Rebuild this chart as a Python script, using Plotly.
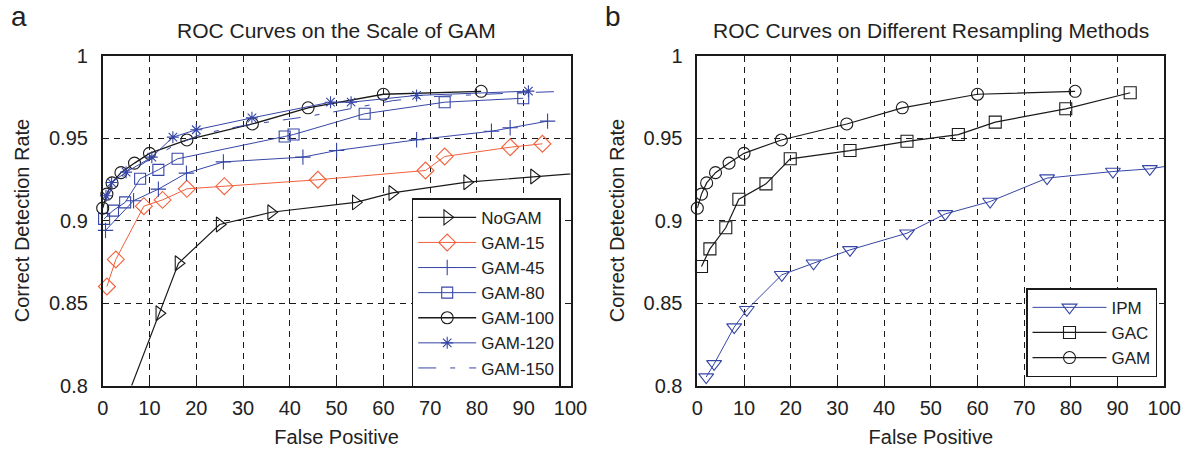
import plotly.graph_objects as go

# ---------------- data: panel a ----------------
nogam_x = [3.0, 12.1, 16.2, 25.0, 36.0, 54.1, 61.9, 77.9, 92.2, 104.0]
nogam_y = [0.7763, 0.8438, 0.8741, 0.8976, 0.9050, 0.9110, 0.9167, 0.9232, 0.9267, 0.9292]

gam15_x = [0.9, 2.8, 8.8, 12.8, 18.0, 26.0, 46.0, 69.0, 73.1, 87.1, 94.0]
gam15_y = [0.860, 0.8764, 0.9087, 0.9125, 0.9192, 0.9208, 0.9247, 0.9303, 0.9388, 0.9444, 0.9465]

gam45_x = [0.6, 6.6, 11.9, 17.9, 25.8, 42.8, 50.0, 67.1, 83.1, 87.1, 95.1]
gam45_y = [0.894, 0.912, 0.919, 0.9287, 0.9355, 0.9384, 0.9424, 0.9489, 0.9541, 0.9562, 0.9602]

gam80_x = [0.3, 2.2, 4.8, 8.0, 11.9, 16.0, 38.9, 40.8, 56.0, 73.1, 89.9]
gam80_y = [0.901, 0.906, 0.911, 0.9253, 0.9307, 0.9374, 0.9509, 0.9521, 0.9647, 0.9717, 0.9741]

gam100_x = [0.0, 0.9, 2.0, 3.9, 6.8, 10.0, 18.0, 32.0, 43.9, 60.0, 80.9]
gam100_y = [0.9075, 0.9160, 0.9228, 0.9290, 0.9348, 0.9407, 0.9488, 0.9585, 0.9683, 0.9765, 0.9783]

gam120_x = [0.7, 1.9, 5.0, 10.5, 15.0, 20.0, 31.9, 48.7, 53.1, 67.1, 91.0]
gam120_y = [0.915, 0.923, 0.9293, 0.9384, 0.9505, 0.955, 0.9622, 0.9717, 0.9717, 0.9758, 0.9784]

gam150_x = [0.5, 2.0, 5.0, 10.0, 15.0, 21.2, 30.0, 38.0, 43.7, 50.1, 61.9, 70.0, 77.9, 85.8, 97.6]
gam150_y = [0.911, 0.920, 0.928, 0.937, 0.945, 0.9525, 0.9575, 0.9606, 0.963, 0.9662, 0.9726, 0.975, 0.9762, 0.977, 0.9782]

# ---------------- data: panel b ----------------
ipm_x = [1.9, 3.6, 7.9, 10.6, 18.1, 24.9, 32.7, 44.9, 53.1, 62.7, 74.9, 89.0, 96.9, 104.0]
ipm_y = [0.8051, 0.8131, 0.8354, 0.8459, 0.8671, 0.8741, 0.8822, 0.8923, 0.9040, 0.9115, 0.9257, 0.9297, 0.9313, 0.9345]

gac_x = [0.9, 2.7, 6.1, 8.9, 14.7, 19.9, 32.7, 44.9, 55.9, 63.8, 78.9, 92.7]
gac_y = [0.8721, 0.8828, 0.8956, 0.9129, 0.9222, 0.9374, 0.9424, 0.9480, 0.9521, 0.9596, 0.9677, 0.9774]

gam_x = gam100_x
gam_y = gam100_y

x_ticks = [0, 10, 20, 30, 40, 50, 60, 70, 80, 90, 100]
y_ticks = [0.8, 0.85, 0.9, 0.95, 1.0]
y_tick_text = ["0.8", "0.85", "0.9", "0.95", "1"]

# ---------------- styling ----------------
BLACK = "#1a1a1a"
BLUE = "#3646a6"
ORANGE = "#f2603c"
FONT = "Liberation Sans, Arial, sans-serif"
W, H = 1187, 453

fig = go.Figure()

def add(x, y, name, color, symbol, size, xa, ya, legend, lw=1.0, clip=False, dash="solid", mode="lines+markers"):
    fig.add_trace(go.Scatter(
        x=x, y=y, name=name, mode=mode, xaxis=xa, yaxis=ya, legend=legend,
        line=dict(color=color, width=lw, dash=dash),
        marker=dict(symbol=symbol, size=size, color=color, line=dict(color=color, width=1.1)),
        cliponaxis=clip,
    ))

# panel a
add(nogam_x, nogam_y, "NoGAM", BLACK, "triangle-right-open", 13, "x", "y", "legend", lw=1.2, clip=True)
add(gam15_x, gam15_y, "GAM-15", ORANGE, "diamond-open", 13, "x", "y", "legend")
add(gam45_x, gam45_y, "GAM-45", BLUE, "cross-thin-open", 11, "x", "y", "legend")
add(gam80_x, gam80_y, "GAM-80", BLUE, "square-open", 11, "x", "y", "legend")
add(gam100_x, gam100_y, "GAM-100", BLACK, "circle-open", 12, "x", "y", "legend", lw=1.3)
add(gam120_x, gam120_y, "GAM-120", BLUE, "asterisk-open", 10, "x", "y", "legend")
add(gam150_x, gam150_y, "GAM-150", BLUE, "circle", 1, "x", "y", "legend", dash="18px,14px,5px,14px", mode="lines")

# panel b
add(ipm_x, ipm_y, "IPM", BLUE, "triangle-down-open", 13, "x2", "y2", "legend2", clip=True)
add(gac_x, gac_y, "GAC", BLACK, "square-open", 12, "x2", "y2", "legend2", lw=1.2)
add(gam_x, gam_y, "GAM", BLACK, "circle-open", 12, "x2", "y2", "legend2", lw=1.2)

ax_common = dict(
    showline=True, mirror="ticks", linecolor=BLACK, linewidth=1.6,
    ticks="inside", ticklen=5, tickwidth=1, tickcolor=BLACK,
    showgrid=True, gridcolor=BLACK, gridwidth=1, griddash="6px,5px",
    zeroline=False, automargin=False,
    tickfont=dict(size=20, color="#222", family=FONT),
    title_font=dict(size=20, color="#222", family=FONT),
)

xa_left = [102.7 / W, 570.5 / W]
xa_right = [697.3 / W, 1164.3 / W]
ydom = [1 - 385.5 / H, 1 - 55.5 / H]

def ann(text, px, py, size=21, xanchor="center"):
    return dict(text=text, x=px / W, y=1 - py / H, xref="paper", yref="paper", showarrow=False,
                xanchor=xanchor, yanchor="middle", font=dict(size=size, color="#222", family=FONT))

fig.update_layout(
    width=W, height=H,
    margin=dict(l=0, r=0, t=0, b=0, autoexpand=False),
    paper_bgcolor="white", plot_bgcolor="white",
    font=dict(family=FONT, color="#222"),
    xaxis=dict(domain=xa_left, range=[0, 100], tickvals=x_ticks, anchor="y",
               title=dict(text="False Positive", standoff=12), ticklabelstandoff=4, **ax_common),
    yaxis=dict(domain=ydom, range=[0.8, 1.0], tickvals=y_ticks, ticktext=y_tick_text, anchor="x",
               title=dict(text="Correct Detection Rate", standoff=14), ticklabelstandoff=9, **ax_common),
    xaxis2=dict(domain=xa_right, range=[0, 100], tickvals=x_ticks, anchor="y2",
                title=dict(text="False Positive", standoff=12), ticklabelstandoff=4, **ax_common),
    yaxis2=dict(domain=ydom, range=[0.8, 1.0], tickvals=y_ticks, ticktext=y_tick_text, anchor="x2",
                title=dict(text="Correct Detection Rate", standoff=14), ticklabelstandoff=9, **ax_common),
    legend=dict(x=411.7 / W, y=1 - 198.3 / H, xanchor="left", yanchor="top",
                bgcolor="white", bordercolor=BLACK, borderwidth=1.5,
                font=dict(size=17, color="#222", family=FONT), itemwidth=58,
                tracegroupgap=0),
    legend2=dict(x=1026 / W, y=1 - 288.3 / H, xanchor="left", yanchor="top",
                 bgcolor="white", bordercolor=BLACK, borderwidth=1.5,
                 font=dict(size=17, color="#222", family=FONT), itemwidth=74,
                 tracegroupgap=0),
    annotations=[
        ann("ROC Curves on the Scale of GAM", (102.7 + 570.5) / 2, 30),
        ann("ROC Curves on Different Resampling Methods", (697.3 + 1164.3) / 2, 30),
        ann("a", 9, 17, size=28, xanchor="left"),
        ann("b", 603, 17, size=28, xanchor="left"),
    ],
    showlegend=True,
)

fig.write_html("out.html", config={"displayModeBar": False},
               post_script="document.body.style.margin='0';")
